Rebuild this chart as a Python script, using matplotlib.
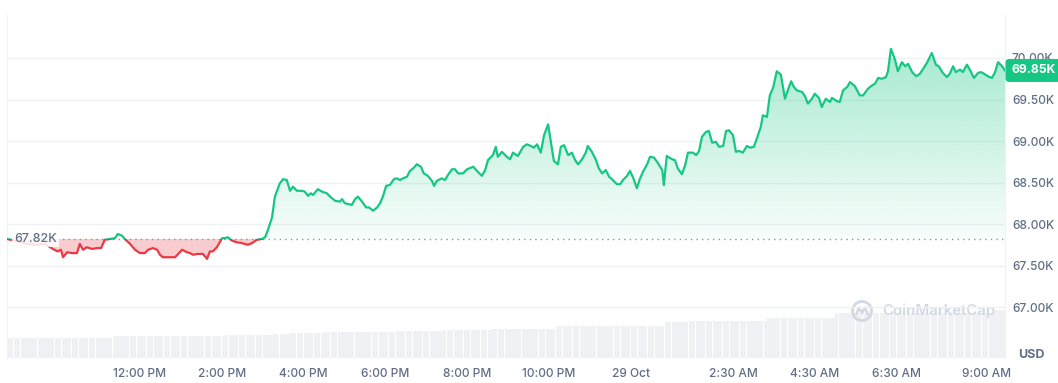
import matplotlib
matplotlib.use("Agg")
import matplotlib.pyplot as plt
import matplotlib.transforms as mtransforms
from matplotlib.patches import Polygon, Rectangle, Circle
from matplotlib.lines import Line2D
import numpy as np

# price, hours counted from 28 Oct 00:00, values in thousands of USD
times = [8.75, 8.94, 9.19, 9.43, 9.68, 9.87, 9.99, 10.07, 10.12, 10.22, 10.34, 10.46, 10.53, 10.61, 10.70, 10.83, 10.95, 11.05, 11.14, 11.27,
         11.39, 11.46, 11.56, 11.63, 11.76, 11.88, 12.00, 12.12, 12.20, 12.32, 12.42, 12.49, 12.56, 12.73,
         12.86, 13.03, 13.15, 13.22, 13.30, 13.42, 13.54, 13.64, 13.71, 13.78, 13.88, 14.01, 14.08, 14.15, 14.25, 14.37, 14.49, 14.64, 14.74, 14.86,
         14.98, 15.06, 15.13, 15.23, 15.30, 15.42, 15.50, 15.59, 15.67, 15.74, 15.84, 15.96, 16.03, 16.11, 16.18, 16.23, 16.35, 16.45, 16.57, 16.65,
         16.77, 16.89, 16.94, 17.01, 17.18, 17.26, 17.33, 17.43, 17.53, 17.60, 17.70, 17.80, 17.87, 17.94, 18.02, 18.11, 18.21, 18.28, 18.36, 18.43,
         18.53, 18.60, 18.68, 18.77, 18.87, 18.94, 19.04, 19.14, 19.19, 19.26, 19.38, 19.46, 19.53, 19.63, 19.70, 19.78, 19.90, 20.00, 20.15, 20.24,
         20.36, 20.44, 20.51, 20.63, 20.70,
         20.75, 20.85, 20.97, 21.05, 21.12, 21.24, 21.37, 21.46, 21.56, 21.63, 21.71, 21.80, 21.88, 21.98, 22.05, 22.12, 22.22, 22.29, 22.37, 22.47,
         22.56, 22.64, 22.71, 22.81, 22.90, 22.95, 23.05, 23.15, 23.22, 23.30, 23.39, 23.47, 23.54, 23.66, 23.74, 23.81, 23.91, 23.98, 24.05, 24.15,
         24.22, 24.30, 24.40, 24.47, 24.57, 24.67, 24.77, 24.81,
         24.88, 25.01, 25.08, 25.15, 25.25, 25.33, 25.40, 25.52, 25.60, 25.67, 25.74, 25.84, 25.91, 25.99, 26.08, 26.16, 26.26, 26.33, 26.40, 26.50,
         26.57, 26.65, 26.74, 26.84, 26.92, 27.01, 27.09, 27.18, 27.23, 27.33, 27.40, 27.48, 27.57, 27.67, 27.77, 27.84, 27.92, 27.99, 28.06, 28.19,
         28.26, 28.33, 28.43, 28.50, 28.60, 28.67, 28.77, 28.87,
         28.92, 29.04, 29.11, 29.19, 29.29, 29.36, 29.48, 29.60, 29.68, 29.80, 29.90, 29.97, 30.05, 30.14, 30.24, 30.29, 30.36, 30.46, 30.53, 30.63,
         30.71, 30.78, 30.88, 30.98, 31.07, 31.24, 31.36, 31.46, 31.53, 31.63, 31.73, 31.80, 31.88, 31.95, 32.05, 32.12, 32.22, 32.32, 32.39, 32.49,
         32.56, 32.64, 32.73, 32.83, 32.90, 32.98, 33.08, 33.15]
prices = [67.82, 67.80, 67.77, 67.75, 67.76, 67.70, 67.67, 67.69, 67.60, 67.66, 67.65, 67.65, 67.76, 67.69, 67.72, 67.70, 67.71, 67.71, 67.81, 67.82,
          67.83, 67.88, 67.86, 67.82, 67.76, 67.69, 67.65, 67.65, 67.69, 67.71, 67.69, 67.63, 67.60, 67.60,
          67.60, 67.69, 67.66, 67.65, 67.63, 67.64, 67.64, 67.58, 67.67, 67.67, 67.72, 67.83, 67.83, 67.84, 67.80, 67.78, 67.77, 67.75, 67.77, 67.81,
          67.82, 67.84, 67.93, 68.08, 68.33, 68.49, 68.54, 68.53, 68.40, 68.45, 68.40, 68.40, 68.39, 68.34, 68.37, 68.35, 68.42, 68.39, 68.37, 68.33,
          68.28, 68.27, 68.30, 68.25, 68.23, 68.30, 68.33, 68.27, 68.20, 68.20, 68.16, 68.20, 68.25, 68.33, 68.46, 68.47, 68.54, 68.55, 68.53, 68.55,
          68.57, 68.64, 68.67, 68.72, 68.69, 68.61, 68.58, 68.52, 68.46, 68.52, 68.55, 68.53, 68.59, 68.66, 68.66, 68.61, 68.61, 68.66, 68.69, 68.64,
          68.58, 68.65, 68.77, 68.83, 68.93,
          68.81, 68.87, 68.81, 68.78, 68.86, 68.82, 68.93, 68.96, 68.94, 68.92, 68.96, 68.86, 69.07, 69.20, 68.98, 68.76, 68.72, 68.93, 68.95, 68.83,
          68.86, 68.77, 68.72, 68.78, 68.86, 68.94, 68.87, 68.77, 68.67, 68.61, 68.65, 68.57, 68.54, 68.48, 68.48, 68.53, 68.58, 68.64, 68.57, 68.43,
          68.54, 68.63, 68.72, 68.81, 68.80, 68.73, 68.65, 68.47,
          68.82, 68.78, 68.77, 68.67, 68.60, 68.71, 68.86, 68.86, 68.83, 68.88, 69.05, 69.11, 69.12, 68.98, 68.99, 68.93, 68.94, 69.12, 69.13, 69.07,
          68.87, 68.88, 68.86, 68.94, 68.92, 68.93, 69.04, 69.17, 69.31, 69.29, 69.55, 69.64, 69.84, 69.80, 69.51, 69.61, 69.72, 69.65, 69.61, 69.59,
          69.54, 69.45, 69.51, 69.57, 69.52, 69.41, 69.51, 69.47,
          69.52, 69.48, 69.47, 69.61, 69.65, 69.71, 69.66, 69.55, 69.55, 69.63, 69.67, 69.69, 69.76, 69.75, 69.77, 69.84, 70.11, 69.98, 69.84, 69.95,
          69.90, 69.93, 69.83, 69.78, 69.81, 69.94, 70.06, 69.92, 69.90, 69.82, 69.77, 69.81, 69.90, 69.83, 69.86, 69.83, 69.92, 69.83, 69.76, 69.82,
          69.83, 69.81, 69.78, 69.76, 69.82, 69.95, 69.90, 69.85]

open_price = 67.82
last_price = 69.85

# volume level (arbitrary units) starting at each hour
vol_times = [8.75, 11.32, 14.05, 15.25, 15.62, 16.45, 18.19, 19.41, 20.56, 22.10, 24.79, 25.37, 27.33, 28.94, 32.86]
vol_levels = [20.3, 22.0, 23.0, 24.3, 25.0, 26.0, 27.0, 27.7, 29.0, 32.3, 36.0, 37.3, 40.0, 45.0, 48.0]

x_ticks = [12, 14, 16, 18, 20, 22, 24, 26.5, 28.5, 30.5, 33]
x_labels = ["12:00 PM", "2:00 PM", "4:00 PM", "6:00 PM", "8:00 PM", "10:00 PM", "29 Oct",
            "2:30 AM", "4:30 AM", "6:30 AM", "9:00 AM"]
y_ticks = [67.0, 67.5, 68.0, 68.5, 69.0, 69.5, 70.0]

green = "#16c784"
red = "#ea3943"
grey_text = "#616e85"
grid_col = "#eff2f5"

plt.rcParams["font.family"] = ["Inter", "DejaVu Sans"]

times = np.array(times)
prices = np.array(prices)
x0, x1 = 8.75, 33.15
y0, y1 = 66.386, 70.518

fig = plt.figure(figsize=(10.58, 3.83), dpi=100)
rect = [7 / 1058, 25 / 383, 998 / 1058, 343 / 383]

# volume bars in the back
axv = fig.add_axes(rect)
step = 5 / 60
bar_t = np.arange(x0, x1, step)
idx = np.searchsorted(vol_times, bar_t, side="right") - 1
bar_v = np.array(vol_levels)[idx]
axv.bar(bar_t, bar_v, width=step * 0.9, align="edge", color="#eff1f5", lw=0)
axv.set_xlim(x0, x1)
axv.set_ylim(0, 343)
axv.axis("off")

# watermark
axv.text(882 / 1058, 1 - 311 / 383, "CoinMarketCap", transform=fig.transFigure,
         fontsize=10.8, color="#d2d8e2", va="center", ha="left", fontweight="semibold")
axv.add_patch(Circle((8.62, 0.72), 0.095, transform=fig.dpi_scale_trans,
                     fill=False, ec="#d2d8e2", lw=2, clip_on=False))
axv.add_line(Line2D([8.565, 8.59, 8.62, 8.65, 8.675], [0.69, 0.755, 0.70, 0.755, 0.69],
                    transform=fig.dpi_scale_trans, color="#d2d8e2", lw=1.8, clip_on=False))

ax = fig.add_axes(rect)
ax.patch.set_alpha(0)
ax.set_xlim(x0, x1)
ax.set_ylim(y0, y1)

# green gradient above the open price
grad = np.zeros((256, 1, 4))
grad[:, 0, :3] = matplotlib.colors.to_rgb(green)
grad[:, 0, 3] = np.linspace(0.03, 0.36, 256)
img = ax.imshow(grad, extent=(x0, x1, open_price, 70.0), origin="lower", aspect="auto", zorder=1)
verts = [(times[0], open_price)] + list(zip(times, np.maximum(prices, open_price))) + [(times[-1], open_price)]
clip_poly = Polygon(verts, closed=True, transform=ax.transData)
img.set_clip_path(clip_poly)
ax.set_xlim(x0, x1)
ax.set_ylim(y0, y1)

# red fill below the open price
ax.fill_between(times, prices, open_price, where=prices < open_price, interpolate=True,
                color=red, alpha=0.25, lw=0, zorder=1)

ax.axhline(open_price, color="#8a939f", lw=1, ls=(0, (1, 3)), zorder=2)

up = ax.plot(times, prices, color=green, lw=1.6, zorder=3, solid_joinstyle="round")[0]
up.set_clip_path(Rectangle((x0, open_price), x1 - x0, y1 - open_price, transform=ax.transData))
dn = ax.plot(times, prices, color=red, lw=1.6, zorder=3, solid_joinstyle="round")[0]
dn.set_clip_path(Rectangle((x0, y0), x1 - x0, open_price - y0, transform=ax.transData))

ax.set_yticks(y_ticks)
ax.set_yticklabels(["%.2fK" % v for v in y_ticks])
ax.yaxis.tick_right()
ax.set_xticks(x_ticks)
ax.set_xticklabels(x_labels)
ax.tick_params(axis="both", length=0, labelsize=8.6, labelcolor=grey_text)
ax.tick_params(axis="y", pad=5)
ax.tick_params(axis="x", pad=7)
for lab in ax.get_xticklabels() + ax.get_yticklabels():
    lab.set_fontweight("medium")
last_lab = ax.get_xticklabels()[-1]
last_lab.set_transform(last_lab.get_transform() + mtransforms.ScaledTranslation(-0.12, 0, fig.dpi_scale_trans))
ax.grid(axis="y", color=grid_col, lw=1)
ax.set_axisbelow(True)
for s in ["top", "bottom"]:
    ax.spines[s].set_visible(False)
for s in ["left", "right"]:
    ax.spines[s].set_color(grid_col)

# open price label on the left
ax.annotate("%.2fK" % open_price, xy=(0, open_price), xycoords=("axes fraction", "data"),
            xytext=(7, 0), textcoords="offset pixels", ha="left", va="center",
            fontsize=9, color=grey_text, fontweight="medium", zorder=4,
            bbox=dict(boxstyle="square,pad=0.15", fc="white", ec="none", alpha=0.85))

# current price badge
ax.annotate("%.2fK" % last_price, xy=(1, last_price), xycoords=("axes fraction", "data"),
            xytext=(6, 0), textcoords="offset pixels", ha="left", va="center",
            fontsize=8.8, color="white", fontweight="bold", zorder=5, annotation_clip=False,
            bbox=dict(boxstyle="round,pad=0.45,rounding_size=0.3", fc=green, ec="none"))

fig.text(1031 / 1058, 1 - 355 / 383, "USD", ha="center", va="center",
         fontsize=9, fontweight="bold", color=grey_text)

fig.savefig("out.png", dpi=100)
